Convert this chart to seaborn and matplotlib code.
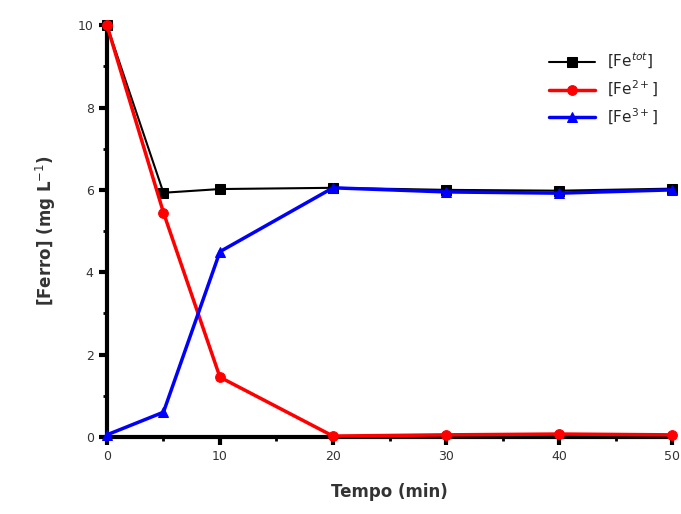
import matplotlib
matplotlib.use("Agg")
import matplotlib.pyplot as plt
from matplotlib.ticker import MultipleLocator
import seaborn as sns
import pandas as pd

tempo = [0, 5, 10, 20, 30, 40, 50]
fe_tot = [10.0, 5.93, 6.02, 6.05, 6.0, 5.98, 6.03]
fe2 = [10.0, 5.45, 1.45, 0.02, 0.05, 0.07, 0.05]
fe3 = [0.05, 0.6, 4.5, 6.05, 5.95, 5.92, 6.0]
labels = ["[Fe$^{tot}$]", "[Fe$^{2+}$]", "[Fe$^{3+}$]"]
colors = ["black", "red", "blue"]
markers = ["s", "o", "^"]
widths = [1.5, 2.5, 2.5]

rows = []
for lab, vals in zip(labels, [fe_tot, fe2, fe3]):
    for t, v in zip(tempo, vals):
        rows.append({"Tempo": t, "Fe": v, "serie": lab})
df = pd.DataFrame(rows)

sns.set_style("ticks")
plt.rcParams["font.family"] = ["DejaVu Sans"]
fig = plt.figure(figsize=(6.81, 5.14), dpi=100)
ax = fig.add_axes([0.157, 0.15, 0.83, 0.801])

for lab, c, m, w in zip(labels, colors, markers, widths):
    sub = df[df["serie"] == lab]
    sns.lineplot(data=sub, x="Tempo", y="Fe", ax=ax, color=c, marker=m,
                 markersize=7, markeredgecolor=c, linewidth=w, label=lab,
                 clip_on=False, zorder=3)

ax.set_xlim(0, 50)
ax.set_ylim(0, 10)
ax.xaxis.set_major_locator(MultipleLocator(10))
ax.xaxis.set_minor_locator(MultipleLocator(5))
ax.yaxis.set_major_locator(MultipleLocator(2))
ax.yaxis.set_minor_locator(MultipleLocator(1))
for s in ["top", "right"]:
    ax.spines[s].set_visible(False)
for s in ["left", "bottom"]:
    ax.spines[s].set_linewidth(3)
    ax.spines[s].set_color("black")
ax.tick_params(which="major", length=6, width=3, labelsize=9, direction="out",
               color="black", labelcolor="#333333")
ax.tick_params(which="minor", length=3, width=2, direction="out", color="black")
ax.set_xlabel("Tempo (min)", fontsize=12, fontweight="bold", labelpad=14,
              color="#333333")
ax.set_ylabel("[Ferro] (mg L$^{-1}$)", fontsize=12, fontweight="bold", labelpad=14,
              color="#333333")
leg = ax.legend(loc="upper right", bbox_to_anchor=(1.0, 0.97), frameon=False,
                fontsize=11, handlelength=3)
fig.savefig("out.png", dpi=100)
